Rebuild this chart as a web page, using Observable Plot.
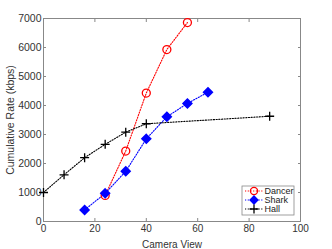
<!DOCTYPE html>
<html><head><meta charset="utf-8">
<script src="https://cdn.jsdelivr.net/npm/d3@7"></script>
<script src="https://cdn.jsdelivr.net/npm/@observablehq/plot@0.6"></script>
<style>body{margin:0;background:#fff;font-family:"Liberation Sans",Arial,sans-serif}</style>
</head><body><div id="chart"></div>
<script>
const seriesNames = ["Dancer", "Shark", "Hall"];
const dancerX = [24, 32, 40, 48, 56];
const dancerY = [900, 2430, 4430, 5930, 6860];
const sharkX = [16, 24, 32, 40, 48, 56, 64];
const sharkY = [400, 970, 1730, 2850, 3610, 4070, 4460];
const hallX = [0, 8, 16, 24, 32, 40, 88];
const hallY = [1000, 1610, 2200, 2660, 3080, 3370, 3630];
const xTicks = [0, 20, 40, 60, 80, 100];
const yTicks = [0, 1000, 2000, 3000, 4000, 5000, 6000, 7000];
const colors = ["#ff0000", "#0000ff", "#000000"];

const data = [];
[[dancerX, dancerY], [sharkX, sharkY], [hallX, hallY]].forEach(([xs, ys], i) => {
  xs.forEach((x, j) => data.push({series: seriesNames[i], x, y: ys[j]}));
});

const chart = Plot.plot({
  width: 332, height: 249,
  marginLeft: 43, marginRight: 32, marginTop: 18, marginBottom: 28,
  style: {fontFamily: "Liberation Sans, Arial, sans-serif", fontSize: "10px", color: "#222"},
  x: {domain: [0, 100]},
  y: {domain: [0, 7000]},
  color: {domain: seriesNames, range: colors},
  marks: [
    Plot.frame({stroke: "#888"}),
    Plot.axisX({ticks: xTicks, tickSize: -3, tickPadding: 6, tickFormat: d3.format("d"), label: "Camera View", labelAnchor: "center", labelArrow: "none", labelOffset: 26, stroke: "#888", fill: "#333"}),
    Plot.axisX({anchor: "top", ticks: xTicks, tickSize: -3, tickFormat: () => "", label: null, stroke: "#888"}),
    Plot.axisY({ticks: yTicks, tickSize: -3, tickPadding: 5, tickFormat: d3.format("d"), label: "Cumulative Rate (kbps)", labelAnchor: "center", labelArrow: "none", labelOffset: 37, stroke: "#888", fill: "#333", fontSize: 10.5}),
    Plot.axisY({anchor: "right", ticks: yTicks, tickSize: -3, tickFormat: () => "", label: null, stroke: "#888"}),
    Plot.line(data, {x: "x", y: "y", z: "series", stroke: "series", strokeWidth: 1.1, strokeDasharray: "1.2,1.5"}),
    Plot.dot(data.filter(d => d.series === "Dancer"), {x: "x", y: "y", stroke: "#ff0000", fill: "none", r: 4, strokeWidth: 1.3}),
    Plot.dot(data.filter(d => d.series === "Shark"), {x: "x", y: "y", symbol: "diamond2", fill: "#0000ff", stroke: "#0000ff", r: 4}),
    Plot.dot(data.filter(d => d.series === "Hall"), {x: "x", y: "y", symbol: "plus", stroke: "#000", r: 3, strokeWidth: 1.3})
  ]
});
document.getElementById("chart").appendChild(chart);

// legend inside the axes, bottom right
const svg = d3.select(chart);
const lg = svg.append("g").attr("transform", "translate(242,186)").attr("text-anchor", "start");
lg.append("rect").attr("width", 52).attr("height", 29).attr("fill", "#fff").attr("stroke", "#888").attr("stroke-width", 0.8);
const legendSymbols = [d3.symbolCircle, d3.symbolDiamond2 || d3.symbolDiamond, d3.symbolPlus];
seriesNames.forEach((name, i) => {
  const y = 5 + i * 9;
  const g = lg.append("g").attr("transform", `translate(0,${y})`);
  g.append("line").attr("x1", 3).attr("x2", 21).attr("y1", 0).attr("y2", 0)
    .attr("stroke", colors[i]).attr("stroke-width", 1.1).attr("stroke-dasharray", "1.2,1.5");
  const sym = d3.symbol().type(legendSymbols[i]).size(i === 0 ? 40 : i === 1 ? 40 : 28);
  g.append("path").attr("d", sym()).attr("transform", "translate(12,0)")
    .attr("fill", i === 1 ? colors[i] : "none").attr("stroke", colors[i]).attr("stroke-width", 1.3);
  g.append("text").attr("x", 22.5).attr("y", 3.2).attr("font-size", 9).attr("fill", "#222")
    .attr("text-anchor", "start")
    .attr("font-family", "Liberation Sans, Arial, sans-serif").text(name);
});
</script></body></html>
